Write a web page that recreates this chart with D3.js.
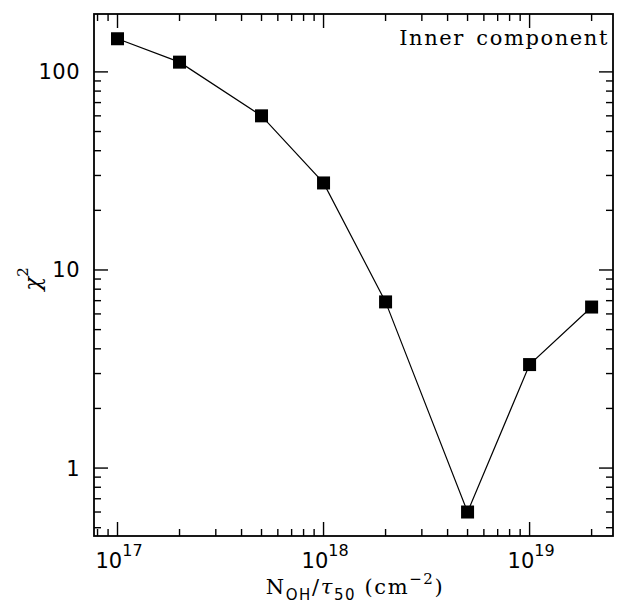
<!DOCTYPE html>
<html><head><meta charset="utf-8">
<script src="https://cdn.jsdelivr.net/npm/d3@7"></script>
<style>body{margin:0;background:#fff}svg{display:block}</style>
</head><body>
<script>
const xValues = [1e17, 2e17, 5e17, 1e18, 2e18, 5e18, 1e19, 2e19];
const chi2Values = [147, 112, 60, 27.5, 6.9, 0.6, 3.33, 6.5];
const xMajorExps = [17, 18, 19];
const yMajorTicks = [1, 10, 100];
const yTickLabels = ["1", "10", "100"];
const panelLabel = "Inner component";

const W = 619, H = 603;
const svg = d3.select("body").append("svg").attr("width", W).attr("height", H);
const L = 94, R = 613, T = 14, B = 536;
const x = d3.scaleLog().domain([7.69e16, 2.54e19]).range([L, R]);
const y = d3.scaleLog().domain([0.454, 196]).range([B, T]);
const font = "'DejaVu Serif', serif";
const sans = "'DejaVu Sans', sans-serif";

const xMinor = [], yMinor = [];
for (let e = 16; e <= 19; e++) for (let k = 2; k <= 9; k++) { const v = k * Math.pow(10, e); if (v >= x.domain()[0] && v <= x.domain()[1]) xMinor.push(v); }
for (let e = -1; e <= 2; e++) for (let k = 2; k <= 9; k++) { const v = k * Math.pow(10, e); if (v >= y.domain()[0] && v <= y.domain()[1]) yMinor.push(v); }
const xMajor = xMajorExps.map(e => Math.pow(10, e));

const g = svg.append("g").attr("stroke", "#000").attr("stroke-width", 1.4);
const maj = 14, mn = 7;
xMajor.forEach(v => { const px = x(v);
  g.append("line").attr("x1", px).attr("x2", px).attr("y1", B).attr("y2", B - maj);
  g.append("line").attr("x1", px).attr("x2", px).attr("y1", T).attr("y2", T + maj); });
xMinor.forEach(v => { const px = x(v);
  g.append("line").attr("x1", px).attr("x2", px).attr("y1", B).attr("y2", B - mn);
  g.append("line").attr("x1", px).attr("x2", px).attr("y1", T).attr("y2", T + mn); });
yMajorTicks.forEach(v => { const py = y(v);
  g.append("line").attr("y1", py).attr("y2", py).attr("x1", L).attr("x2", L + maj);
  g.append("line").attr("y1", py).attr("y2", py).attr("x1", R).attr("x2", R - maj); });
yMinor.forEach(v => { const py = y(v);
  g.append("line").attr("y1", py).attr("y2", py).attr("x1", L).attr("x2", L + mn);
  g.append("line").attr("y1", py).attr("y2", py).attr("x1", R).attr("x2", R - mn); });

svg.append("rect").attr("x", L).attr("y", T).attr("width", R - L).attr("height", B - T)
  .attr("fill", "none").attr("stroke", "#000").attr("stroke-width", 1.8);

yMajorTicks.forEach((v, i) => {
  svg.append("text").attr("x", 80).attr("y", y(v) + 7.5).attr("text-anchor", "end")
    .attr("font-family", sans).attr("font-size", 21).attr("letter-spacing", 0.5).text(yTickLabels[i]);
});
xMajorExps.forEach(e => {
  const t = svg.append("text").attr("x", x(Math.pow(10, e)) - 22).attr("y", 568)
    .attr("font-family", sans).attr("font-size", 21);
  t.append("tspan").text("10");
  t.append("tspan").attr("dy", -12).attr("font-size", 16).text(String(e));
});

const line = d3.line().x((d, i) => x(xValues[i])).y(d => y(d));
svg.append("path").datum(chi2Values).attr("d", line).attr("fill", "none")
  .attr("stroke", "#000").attr("stroke-width", 1.2);
const s = 13;
svg.selectAll("rect.pt").data(chi2Values).enter().append("rect").attr("class", "pt")
  .attr("x", (d, i) => x(xValues[i]) - s / 2).attr("y", d => y(d) - s / 2)
  .attr("width", s).attr("height", s).attr("fill", "#000");

svg.append("text").attr("x", 609).attr("y", 45).attr("text-anchor", "end")
  .attr("font-family", font).attr("font-size", 21).attr("letter-spacing", 1.6)
  .attr("word-spacing", 3).text(panelLabel);

const xt = svg.append("text").attr("x", 355).attr("y", 594).attr("text-anchor", "middle")
  .attr("font-family", font).attr("font-size", 21).attr("letter-spacing", 1.6);
xt.append("tspan").text("N");
xt.append("tspan").attr("dy", 6).attr("font-size", 15).attr("font-family", sans).text("OH");
xt.append("tspan").attr("dy", -6).text("/");
xt.append("tspan").attr("font-style", "italic").text("τ");
xt.append("tspan").attr("dy", 6).attr("font-size", 15).attr("font-family", sans).text("50");
xt.append("tspan").attr("dy", -6).text("  (cm");
xt.append("tspan").attr("dy", -10).attr("font-size", 15).text("−2");
xt.append("tspan").attr("dy", 10).text(")");

const yt = svg.append("text").attr("transform", "translate(40,279) rotate(-90)")
  .attr("text-anchor", "middle").attr("font-family", font).attr("font-size", 23);
yt.append("tspan").attr("font-style", "italic").text("χ");
yt.append("tspan").attr("dy", -12).attr("font-size", 15).text("2");
</script>
</body></html>
